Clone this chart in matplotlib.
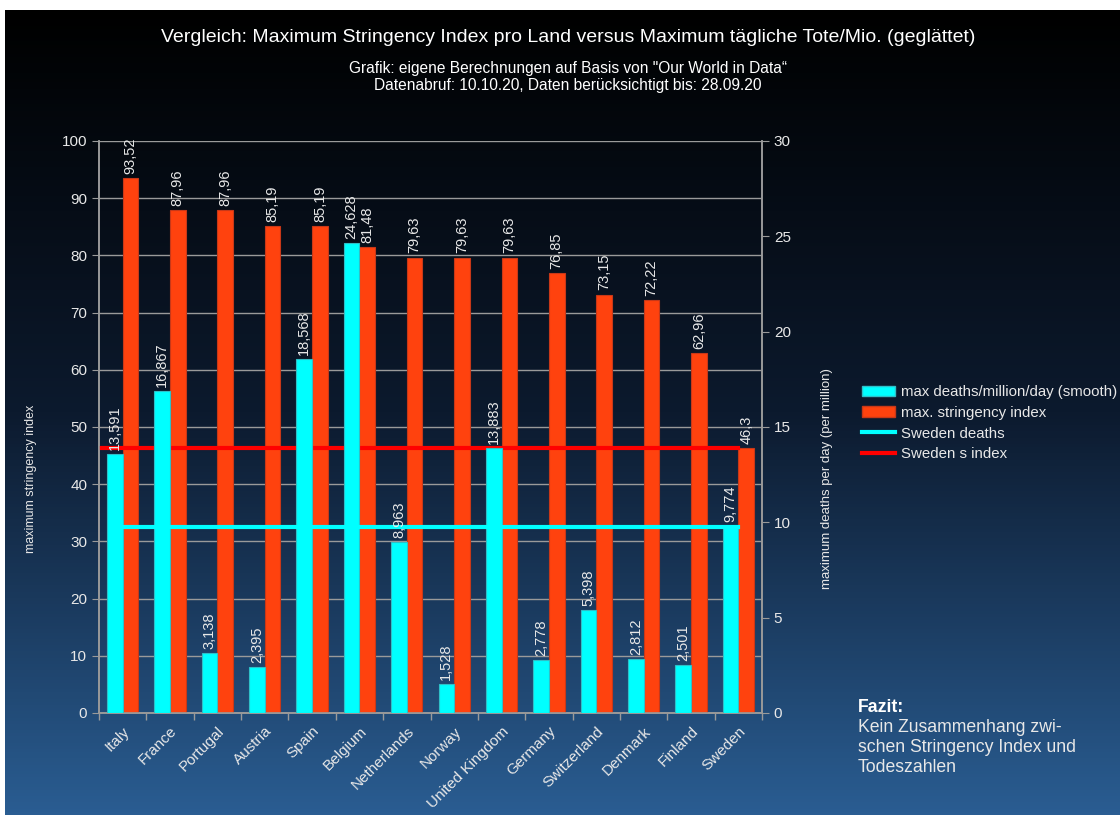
import numpy as np
import matplotlib
matplotlib.use("Agg")
import matplotlib.pyplot as plt
from matplotlib.colors import LinearSegmentedColormap
from matplotlib.lines import Line2D
from matplotlib.patches import Patch

plt.rcParams['font.family'] = ['Liberation Sans', 'DejaVu Sans']

countries = ['Italy', 'France', 'Portugal', 'Austria', 'Spain', 'Belgium',
             'Netherlands', 'Norway', 'United Kingdom', 'Germany',
             'Switzerland', 'Denmark', 'Finland', 'Sweden']
max_deaths = [13.591, 16.867, 3.138, 2.395, 18.568, 24.628, 8.963,
              1.528, 13.883, 2.778, 5.398, 2.812, 2.501, 9.774]
max_stringency = [93.52, 87.96, 87.96, 85.19, 85.19, 81.48, 79.63,
                  79.63, 79.63, 76.85, 73.15, 72.22, 62.96, 46.3]
sweden_deaths = max_deaths[countries.index('Sweden')]
sweden_index = max_stringency[countries.index('Sweden')]

TXT = '#e8e8e8'
GRID = '#9a9a9a'
CYAN = '#00ffff'
ORANGE = '#ff420e'
RED = '#ff0000'


def de(v):
    return ('%g' % v).replace('.', ',')


W, H = 1120, 815
fig = plt.figure(figsize=(W / 100, H / 100), dpi=100)
fig.patch.set_facecolor('white')

# dark-to-blue gradient backdrop
bg = fig.add_axes([5 / W, 0, (W - 5) / W, (H - 10) / H], zorder=-10)
cmap = LinearSegmentedColormap.from_list('bg', ['#000000', '#0c1a2e', '#2a5d92'])
bg.imshow(np.linspace(0, 1, 256).reshape(-1, 1), aspect='auto', cmap=cmap,
          extent=[0, 1, 0, 1], origin='upper')
bg.set_axis_off()

ax = fig.add_axes([99 / W, 1 - 713 / H, 663 / W, 572 / H])
ax2 = ax.twinx()
ax.set_facecolor('none')
ax2.set_facecolor('none')

x = np.arange(len(countries))
bw = 0.33
ax2.bar(x - bw / 2, max_deaths, bw, color=CYAN, edgecolor='#2fbfc8',
        linewidth=0.8, zorder=3)
ax.bar(x + bw / 2, max_stringency, bw, color=ORANGE, edgecolor='#c83818',
       linewidth=0.8, zorder=3)

# Sweden reference lines
ax2.plot([0, x[-1]], [sweden_deaths] * 2, color=CYAN, lw=3, zorder=5)
ax.plot([-0.5, x[-1]], [sweden_index] * 2, color=RED, lw=3, zorder=5)

for xi, v in zip(x, max_deaths):
    ax2.annotate(de(v), (xi - bw / 2, v), xytext=(0, 3),
                 textcoords='offset points', rotation=90, ha='center',
                 va='bottom', color=TXT, fontsize=10.5, zorder=6)
for xi, v in zip(x, max_stringency):
    ax.annotate(de(v), (xi + bw / 2, v), xytext=(0, 3),
                textcoords='offset points', rotation=90, ha='center',
                va='bottom', color=TXT, fontsize=10.5, zorder=6)

ax.set_xlim(-0.5, len(countries) - 0.5)
ax.set_ylim(0, 100)
ax2.set_ylim(0, 30)
ax.set_yticks(np.arange(0, 101, 10))
ax2.set_yticks(np.arange(0, 31, 5))
ax.yaxis.grid(True, color=GRID, lw=1)
ax.set_axisbelow(True)

ax.set_xticks(x)
ax.set_xticklabels(countries, rotation=45, ha='right', rotation_mode='anchor',
                   fontsize=11, color=TXT)
ax.set_xticks(np.arange(-0.5, len(countries)), minor=True)
ax.tick_params(axis='x', which='major', length=0, pad=8)
ax.tick_params(axis='x', which='minor', length=5, color=GRID, width=1)
ax.tick_params(axis='y', length=5, color=GRID, labelsize=11, labelcolor=TXT)
ax2.tick_params(axis='y', length=5, color=GRID, labelsize=11, labelcolor=TXT)

for a in (ax, ax2):
    for side in ('left', 'right', 'bottom'):
        a.spines[side].set_color(GRID)
        a.spines[side].set_linewidth(1.2)
    a.spines['top'].set_visible(False)

ax.set_ylabel('maximum stringency index', color=TXT, fontsize=9)
ax.yaxis.set_label_coords(-0.0935, 0.41)
ax2.set_ylabel('maximum deaths per day (per million)', color=TXT, fontsize=9.5)
ax2.yaxis.set_label_coords(1.089, 0.41)

fig.text(568 / W, 1 - 38 / H,
         'Vergleich: Maximum Stringency Index pro Land versus Maximum tägliche Tote/Mio. (geglättet)',
         ha='center', va='center', color='white', fontsize=14)
fig.text(568 / W, 1 - 77 / H,
         'Grafik: eigene Berechnungen auf Basis von "Our World in Data\u201c\n'
         'Datenabruf: 10.10.20, Daten berücksichtigt bis: 28.09.20',
         ha='center', va='center', color='white', fontsize=11.2,
         linespacing=1.2)

handles = [Patch(facecolor=CYAN, edgecolor='#2fbfc8'),
           Patch(facecolor=ORANGE, edgecolor='#c83818'),
           Line2D([], [], color=CYAN, lw=3),
           Line2D([], [], color=RED, lw=3)]
labels = ['max deaths/million/day (smooth)', 'max. stringency index',
          'Sweden deaths', 'Sweden s index']
fig.legend(handles, labels, loc='upper left',
           bbox_to_anchor=(856 / W, 1 - 379 / H), frameon=False,
           fontsize=10.8, labelcolor=TXT, handlelength=2.2, handleheight=0.7,
           handletextpad=0.4, labelspacing=0.45, borderaxespad=0)

fig.text(858 / W, 1 - 707 / H, 'Fazit:', ha='left', va='center',
         color='white', fontsize=12.7, fontweight='bold')
fig.text(858 / W, 1 - 719 / H,
         'Kein Zusammenhang zwi-\nschen Stringency Index und\nTodeszahlen',
         ha='left', va='top', color=TXT, fontsize=12.7, linespacing=1.24)

fig.savefig('out.png', dpi=100)
